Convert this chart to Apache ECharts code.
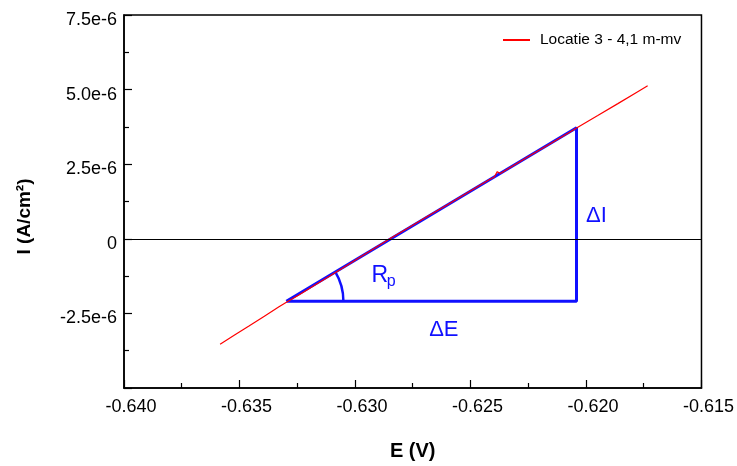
<!DOCTYPE html>
<html>
<head>
<meta charset="utf-8">
<script src="https://cdn.jsdelivr.net/npm/echarts@6/dist/echarts.min.js"></script>
<style>
html,body{margin:0;padding:0;background:#fff;}
#main{width:737px;height:466px;}
</style>
</head>
<body>
<div id="main"></div>
<script>
// Measured curve: potential E (V) and current density I (A/cm2)
const curveE = [-0.63584,-0.63523,-0.63459,-0.63394,-0.63329,-0.63295,-0.63243,-0.63157,-0.63070,-0.62984,-0.62898,-0.62846,-0.62768,-0.62682,-0.62596,-0.62510,-0.62423,-0.62397,-0.62384,-0.62371,-0.62337,-0.62251,-0.62164,-0.62078,-0.62039,-0.61949,-0.61862,-0.61776,-0.61733];
const curveI = [-3.53e-6,-3.23e-6,-2.92e-6,-2.60e-6,-2.28e-6,-2.12e-6,-1.88e-6,-1.47e-6,-1.06e-6,-0.64e-6,-0.23e-6,0.02e-6,0.37e-6,0.77e-6,1.16e-6,1.56e-6,1.96e-6,2.07e-6,2.25e-6,2.19e-6,2.35e-6,2.75e-6,3.14e-6,3.54e-6,3.72e-6,4.13e-6,4.53e-6,4.93e-6,5.13e-6];
const seriesName = 'Locatie 3 - 4,1 m-mv';

// Rp construction triangle
const triE = [-0.63297, -0.62041, -0.62041, -0.63297];
const triI = [-2.09e-6, 3.72e-6, -2.09e-6, -2.09e-6];

// Annotation texts and anchors (data coords)
const annText = ['R', 'p', 'ΔI', 'ΔE'];
const annE = [-0.62929, -0.62863, -0.62000, -0.62679];
const annI = [-1.22e-6, -1.45e-6, 0.78e-6, -3.04e-6];
const annSize = [23, 16, 22, 22];

// Axis ticks
const xMin = -0.640, xMax = -0.615, xStep = 0.005;
const yMin = -5e-6, yMax = 7.5e-6, yStep = 2.5e-6;

const FONT = 'Liberation Sans, Arial, sans-serif';
const BLUE = '#1010ff';

const chart = echarts.init(document.getElementById('main'));
chart.setOption({
  animation: false,
  backgroundColor: '#fff',
  grid: {left: 124, right: 33, top: 15, bottom: 76, show: true, borderColor: '#000', borderWidth: 1.5, backgroundColor: 'transparent'},
  legend: {
    data: [seriesName], left: 498, top: 27, itemWidth: 27, itemHeight: 2, icon: 'rect',
    textStyle: {fontFamily: FONT, fontSize: 15.5, color: '#000', padding: [0,0,0,5]}
  },
  xAxis: {
    type: 'value', min: xMin, max: xMax, interval: xStep,
    name: 'E (V)', nameLocation: 'middle', nameGap: 53,
    nameTextStyle: {fontFamily: FONT, fontSize: 20, fontWeight: 'bold', color: '#000'},
    axisLine: {show: true, onZero: false, lineStyle: {color: '#000', width: 1.5}},
    axisTick: {show: true, inside: true, length: 8, lineStyle: {color: '#000', width: 1.2}},
    minorTick: {show: true, splitNumber: 2, length: 5, lineStyle: {color: '#000', width: 1.2}},
    splitLine: {show: false},
    axisLabel: {fontFamily: FONT, fontSize: 18, color: '#000', margin: 10, padding: [0,0,0,14], formatter: v => v.toFixed(3)}
  },
  yAxis: {
    type: 'value', min: yMin, max: yMax, interval: yStep,
    name: 'I (A/cm²)', nameLocation: 'middle', nameGap: 90,
    nameTextStyle: {fontFamily: FONT, fontSize: 19, fontWeight: 'bold', color: '#000', padding: [0,30,0,0]},
    axisLine: {show: true, onZero: false, lineStyle: {color: '#000', width: 1.5}},
    axisTick: {show: true, inside: true, length: 8, lineStyle: {color: '#000', width: 1.2}},
    minorTick: {show: true, splitNumber: 2, length: 5, lineStyle: {color: '#000', width: 1.2}},
    splitLine: {show: false},
    axisLabel: {fontFamily: FONT, fontSize: 18, color: '#000', margin: 7,
      rich: {t: {fontFamily: FONT, fontSize: 18, color: '#000', padding: [10, 0, 0, 0]}},
      formatter: v => {
        if (Math.abs(v - yMin) < 1e-12) return '';
        const s = Math.abs(v) < 1e-12 ? '0' : v.toExponential(1);
        return '{t|' + s + '}';
      }}
  },
  series: [
    {
      name: 'triangle', type: 'line', data: triE.map((e, i) => [e, triI[i]]),
      showSymbol: false, symbol: 'none', lineStyle: {color: BLUE, width: 3}, itemStyle: {color: BLUE}, z: 2,
      markLine: {silent: true, symbol: 'none', label: {show: false}, lineStyle: {color: '#000', width: 1.2, type: 'solid'}, data: [{yAxis: 0}]}
    },
    {
      name: 'arc', type: 'custom', z: 2,
      data: [[triE[0], triI[0], triE[1], triI[1]]],
      renderItem: (params, api) => {
        const p0 = api.coord([api.value(0), api.value(1)]);
        const p1 = api.coord([api.value(2), api.value(3)]);
        const ang = Math.atan2(p1[1] - p0[1], p1[0] - p0[0]);
        return {type: 'arc', shape: {cx: p0[0], cy: p0[1], r: 57, startAngle: ang, endAngle: 0, clockwise: true},
          style: {stroke: BLUE, fill: null, lineWidth: 2.5}};
      }
    },
    {
      name: 'labels', type: 'custom', z: 4,
      data: annText.map((t, i) => [annE[i], annI[i], i]),
      renderItem: (params, api) => {
        const p = api.coord([api.value(0), api.value(1)]);
        const i = api.value(2);
        return {type: 'text', x: p[0], y: p[1],
          style: {text: annText[i], fontFamily: FONT, fontSize: annSize[i], fill: BLUE, align: 'left', verticalAlign: 'middle'}};
      }
    },
    {
      name: seriesName, type: 'line', data: curveE.map((e, i) => [e, curveI[i]]),
      showSymbol: false, symbol: 'none', lineStyle: {color: '#ff0000', width: 1.2}, itemStyle: {color: '#ff0000'}, z: 3
    }
  ]
});
</script>
</body>
</html>
